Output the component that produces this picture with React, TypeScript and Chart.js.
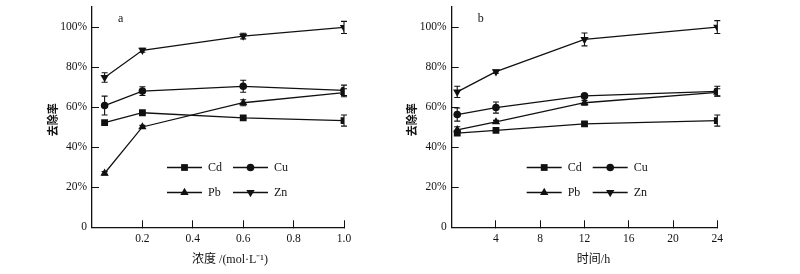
import React, { useEffect, useRef } from 'react';
import { Chart, registerables } from 'chart.js';

Chart.register(...registerables);

// ---------- data ----------
const seriesNames = ['Cd', 'Cu', 'Pb', 'Zn'];

// panel a: concentration (mol/L)
const concX = [0.05, 0.2, 0.6, 1.0];
const concCd = [52.3, 57.2, 54.6, 53.3];
const concCu = [60.8, 68.0, 70.4, 68.4];
const concPb = [27.0, 50.1, 62.2, 67.2];
const concZn = [74.8, 88.4, 95.5, 99.8];
const concCdErr = [0.8, 0.8, 0.8, 2.8];
const concCuErr = [4.7, 2.2, 3.0, 2.6];
const concPbErr = [0.8, 0.8, 1.5, 2.0];
const concZnErr = [2.4, 1.0, 1.4, 3.0];

// panel b: time (h)
const timeX = [0.5, 4, 12, 24];
const timeCd = [47.0, 48.4, 51.6, 53.3];
const timeCu = [56.3, 59.8, 65.6, 67.9];
const timePb = [48.7, 52.6, 62.2, 67.4];
const timeZn = [67.6, 77.7, 93.8, 100.0];
const timeCdErr = [1.0, 0.8, 0.8, 2.8];
const timeCuErr = [3.3, 2.8, 0.8, 2.5];
const timePbErr = [1.5, 0.8, 1.2, 1.8];
const timeZnErr = [2.8, 0.8, 3.2, 3.2];

const yTickMax = 100;

// ---------- styles ----------
const INK = '#111';
const SERIF = '"Liberation Serif", "Times New Roman", "Noto Sans CJK SC", serif';
const CJK = '"Noto Sans CJK SC", "Liberation Serif", serif';

const markerStyles = [
  { pointStyle: 'rect', radius: 4.8, rotation: 0 },
  { pointStyle: 'circle', radius: 3.8, rotation: 0 },
  { pointStyle: 'triangle', radius: 4.8, rotation: 0 },
  { pointStyle: 'triangle', radius: 4.8, rotation: 180 },
];

function drawMarker(ctx: CanvasRenderingContext2D, style: string, r: number, rot: number, x: number, y: number) {
  ctx.beginPath();
  if (style === 'rect') {
    const s = Math.SQRT1_2 * r;
    ctx.rect(x - s, y - s, 2 * s, 2 * s);
  } else if (style === 'circle') {
    ctx.arc(x, y, r, 0, Math.PI * 2);
  } else {
    let rad = (rot * Math.PI) / 180;
    ctx.moveTo(x + Math.sin(rad) * r, y - Math.cos(rad) * r);
    rad += (2 * Math.PI) / 3;
    ctx.lineTo(x + Math.sin(rad) * r, y - Math.cos(rad) * r);
    rad += (2 * Math.PI) / 3;
    ctx.lineTo(x + Math.sin(rad) * r, y - Math.cos(rad) * r);
    ctx.closePath();
  }
  ctx.fill();
}

const errorBarPlugin = {
  id: 'errorBars',
  afterDatasetsDraw(chart: any, _args: any, opts: any) {
    const errs: number[][] = opts.errors || [];
    const { ctx } = chart;
    const xs = chart.scales.x;
    const ys = chart.scales.y;
    ctx.save();
    ctx.strokeStyle = INK;
    ctx.lineWidth = 1.1;
    chart.data.datasets.forEach((ds: any, i: number) => {
      const e = errs[i];
      if (!e) return;
      ds.data.forEach((p: any, j: number) => {
        const px = xs.getPixelForValue(p.x);
        const top = ys.getPixelForValue(p.y + e[j]);
        const bot = ys.getPixelForValue(p.y - e[j]);
        const cap = 3;
        ctx.beginPath();
        ctx.moveTo(px, top);
        ctx.lineTo(px, bot);
        ctx.moveTo(px - cap, top);
        ctx.lineTo(px + cap, top);
        ctx.moveTo(px - cap, bot);
        ctx.lineTo(px + cap, bot);
        ctx.stroke();
      });
    });
    ctx.restore();
  },
};

const inlineLegendPlugin = {
  id: 'inlineLegend',
  afterDraw(chart: any, _args: any, opts: any) {
    const { ctx, chartArea } = chart;
    ctx.save();
    ctx.strokeStyle = INK;
    ctx.fillStyle = INK;
    ctx.lineWidth = 1.3;
    ctx.font = `12px ${SERIF}`;
    ctx.textBaseline = 'middle';
    ctx.textAlign = 'left';
    chart.data.datasets.forEach((ds: any, i: number) => {
      const row = Math.floor(i / 2);
      const col = i % 2;
      const x0 = chartArea.left + opts.left + col * opts.colWidth;
      const y = chartArea.top + opts.top + row * opts.rowHeight;
      const x1 = x0 + opts.lineLength;
      ctx.beginPath();
      ctx.moveTo(x0, y);
      ctx.lineTo(x1, y);
      ctx.stroke();
      const m = markerStyles[i];
      drawMarker(ctx, m.pointStyle, m.radius, m.rotation, (x0 + x1) / 2, y);
      ctx.fillText(ds.label, x1 + opts.gap, y + 0.5);
    });
    // panel letter
    ctx.font = `12px ${SERIF}`;
    ctx.fillText(opts.panel, chartArea.left + opts.panelDx, chartArea.top + opts.panelDy);
    ctx.restore();
  },
};

type PanelProps = {
  xs: number[];
  ys: number[][];
  errs: number[][];
  xMax: number;
  xStep: number;
  xDecimals: number;
  xTitle: string;
  panel: string;
  padLeft: number;
  padRight: number;
  yWidth: number;
  yTitlePad: number;
  left: number;
};

function Panel(props: PanelProps) {
  const ref = useRef<HTMLCanvasElement | null>(null);
  useEffect(() => {
    if (!ref.current) return;
    const datasets = props.ys.map((vals, i) => ({
      label: seriesNames[i],
      data: props.xs.map((x, j) => ({ x, y: vals[j] })),
      borderColor: INK,
      backgroundColor: INK,
      borderWidth: 1.3,
      pointStyle: markerStyles[i].pointStyle,
      pointRadius: markerStyles[i].radius,
      pointRotation: markerStyles[i].rotation,
      pointBorderWidth: 0,
      pointBackgroundColor: INK,
      tension: 0,
      fill: false,
    }));
    const chart = new Chart(ref.current, {
      type: 'line',
      data: { datasets },
      plugins: [errorBarPlugin, inlineLegendPlugin],
      options: {
        responsive: false,
        animation: false,
        layout: { padding: { left: props.padLeft, right: props.padRight, top: 7, bottom: 0 } },
        plugins: {
          legend: { display: false },
          tooltip: { enabled: false },
          errorBars: { errors: props.errs },
          inlineLegend: {
            left: 75, top: 160.5, colWidth: 66, rowHeight: 25, lineLength: 35, gap: 6,
            panel: props.panel, panelDx: 26, panelDy: 12,
          },
        } as any,
        scales: {
          x: {
            type: 'linear',
            min: 0,
            max: props.xMax,
            ticks: {
              stepSize: props.xStep,
              color: INK,
              font: { family: SERIF, size: 11.5 },
              padding: 12,
              maxRotation: 0,
              autoSkip: false,
              callback: (v: any) => Number(v).toFixed(props.xDecimals),
            },
            afterBuildTicks: (s: any) => {
              s.ticks = s.ticks.filter((t: any) => t.value > 1e-9);
            },
            afterFit: (s: any) => {
              s.height = 46.7;
              s.paddingLeft = 0;
              s.paddingRight = 0;
            },
            grid: {
              drawOnChartArea: false,
              drawTicks: true,
              tickLength: -7,
              color: INK,
              lineWidth: 1,
            },
            border: { display: true, color: INK, width: 1.3 },
            title: {
              display: true,
              text: props.xTitle,
              color: INK,
              font: { family: SERIF, size: 12 },
              padding: { top: 0, bottom: 7 },
            },
          },
          y: {
            type: 'linear',
            min: 0,
            max: 110,
            ticks: {
              stepSize: 20,
              color: INK,
              font: { family: SERIF, size: 11.5 },
              padding: 12,
              callback: (v: any) => (Number(v) === 0 ? '0' : `${v}%`),
            },
            afterBuildTicks: (s: any) => {
              s.ticks = s.ticks.filter((t: any) => t.value <= yTickMax + 1e-9);
            },
            afterFit: (s: any) => {
              s.width = props.yWidth;
              s.paddingTop = 0;
              s.paddingBottom = 0;
            },
            grid: {
              drawOnChartArea: false,
              drawTicks: true,
              tickLength: -7,
              color: INK,
              lineWidth: 1,
            },
            border: { display: true, color: INK, width: 1.3 },
            title: {
              display: true,
              text: '去除率  ',
              color: INK,
              font: { family: CJK, size: 11, weight: 'bold' },
              padding: { top: props.yTitlePad, bottom: 0 },
            },
          },
        },
      } as any,
    });
    return () => chart.destroy();
  }, []);
  return (
    <canvas
      ref={ref}
      width={400}
      height={274}
      style={{ position: 'absolute', left: props.left, top: 0, width: 400, height: 274, display: 'block' }}
    />
  );
}

export default function App() {
  return (
    <div style={{ position: 'absolute', left: 0, top: 0, width: 800, height: 274, background: '#fff', overflow: 'hidden' }}>
      <Panel
        xs={concX}
        ys={[concCd, concCu, concPb, concZn]}
        errs={[concCdErr, concCuErr, concPbErr, concZnErr]}
        xMax={1.0}
        xStep={0.2}
        xDecimals={1}
        xTitle={'        浓度 /(mol·L⁻¹)'}
        panel="a"
        padLeft={40}
        padRight={56}
        yWidth={52}
        yTitlePad={6.5}
        left={0}
      />
      <Panel
        xs={timeX}
        ys={[timeCd, timeCu, timePb, timeZn]}
        errs={[timeCdErr, timeCuErr, timePbErr, timeZnErr]}
        xMax={24}
        xStep={4}
        xDecimals={0}
        xTitle={'      时间/h'}
        panel="b"
        padLeft={5}
        padRight={82.7}
        yWidth={46.7}
        yTitlePad={0.5}
        left={400}
      />
    </div>
  );
}
